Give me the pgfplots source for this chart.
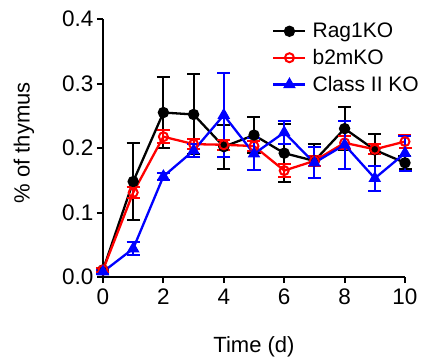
\documentclass[border=0pt]{standalone}
\usepackage{fontspec}
\setmainfont{Liberation Sans}
\usepackage{pgfplots}
\pgfplotsset{compat=1.18}
\begin{document}
\begin{tikzpicture}
\path[use as bounding box] (-103pt,-83pt) rectangle (323pt,277pt);
\begin{axis}[
  at={(0,0)}, anchor=south west, scale only axis, width=302pt, height=258pt,
  xmin=0, xmax=10, ymin=0, ymax=0.4,
  axis lines=left, axis line style={line width=2pt,-},
  xtick={0,2,4,6,8,10}, ytick={0,0.1,0.2,0.3,0.4},
  tick style={line width=2pt,black}, tick align=outside, major tick length=6pt,
  clip=false,
  /pgf/number format/assume math mode=true,
  yticklabel style={/pgf/number format/fixed,/pgf/number format/precision=1,/pgf/number format/fixed zerofill},
  ticklabel style={font=\fontsize{22.5}{26}\selectfont},
  xticklabel style={yshift=-2pt},
  xlabel={Time (d)}, ylabel={\% of thymus},
  label style={font=\fontsize{22}{26}\selectfont},
  xlabel style={at={(axis description cs:0.5,0)}, anchor=base, yshift=-75pt},
  ylabel style={at={(axis description cs:-0.262,0.52)}, anchor=center},
  legend style={at={(0.55,1.0)}, anchor=north west, draw=none, fill=none,
    font=\fontsize{21}{25}\selectfont, row sep=6pt, column sep=4pt},
  legend cell align=left,
  legend image code/.code={\draw[mark repeat=2,mark phase=2,#1] plot coordinates {(0pt,0pt) (16pt,0pt) (32pt,0pt)};},
  every axis plot/.append style={line width=2.3pt},
  error bars/error bar style={line width=2pt},
  error bars/error mark options={rotate=90, mark size=6.5pt, line width=2pt},
]
\addplot[black, mark=*, mark size=4.5pt, mark options={solid,fill=black},
  error bars/.cd, y dir=both, y explicit]
  table[x=x, y=y, y error=e] {
x y e
0 0.011 0.003
1 0.148 0.059
2 0.255 0.055
3 0.252 0.062
4 0.202 0.034
5 0.220 0.028
6 0.192 0.045
7 0.180 0.026
8 0.230 0.033
9 0.197 0.025
10 0.177 0.010
};
\addlegendentry{Rag1KO}
\addplot[red, mark=o, mark size=4.5pt, mark options={solid,line width=2pt},
  error bars/.cd, y dir=both, y explicit]
  table[x=x, y=y, y error=e] {
x y e
0 0.011 0.003
1 0.131 0.008
2 0.2175 0.010
3 0.206 0.008
4 0.205 0.008
5 0.203 0.008
6 0.165 0.010
7 0.180 0.008
8 0.208 0.010
9 0.198 0.008
10 0.210 0.010
};
\addlegendentry{b2mKO}
\addplot[blue, mark=triangle*, mark size=5pt, mark options={solid,fill=blue},
  error bars/.cd, y dir=both, y explicit]
  table[x=x, y=y, y error=e] {
x y e
0 0.008 0.003
1 0.044 0.010
2 0.156 0.005
3 0.196 0.010
4 0.251 0.065
5 0.191 0.025
6 0.224 0.018
7 0.177 0.024
8 0.205 0.037
9 0.153 0.019
10 0.192 0.027
};
\addlegendentry{Class II KO}
\end{axis}
\end{tikzpicture}
\end{document}
